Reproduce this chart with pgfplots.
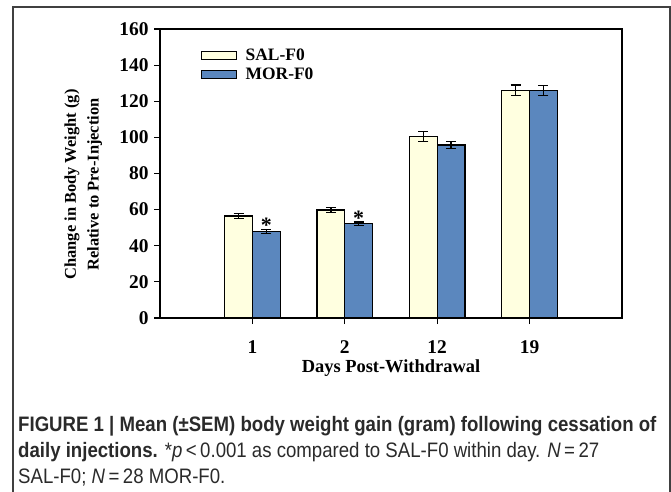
\documentclass[border=0pt]{standalone}
\usepackage{fontspec}
\setmainfont{Liberation Serif}
\newfontfamily\capfont[FakeStretch=0.89]{Liberation Sans}
\usepackage{pgfplots}
\pgfplotsset{compat=1.18}
\definecolor{salc}{HTML}{FFFFE0}
\definecolor{morc}{HTML}{5B87BE}
\definecolor{capc}{HTML}{2A2A2A}
\begin{document}
\begin{tikzpicture}
\useasboundingbox (0,0) rectangle (671bp,-492bp);
\draw[line width=1.4bp, black!75] (13bp,-520bp) -- (13bp,-7bp) -- (670bp,-7bp) -- (670bp,-520bp);
\begin{axis}[
  at={(160bp,-318bp)}, anchor=south west,
  scale only axis, width=462bp, height=289bp,
  xmin=-1, xmax=4, ymin=0, ymax=160,
  ybar=0pt, bar width=0.3,
  xtick={0,1,2,3}, xticklabels={1,2,12,19},
  ytick={0,20,...,160},
  tick align=outside, xtick pos=bottom, ytick pos=left,
  major tick length=6bp,
  axis line style={line width=1.2bp},
  tick style={line width=1.2bp, black},
  /pgf/number format/assume math mode=true,
  ticklabel style={font=\bfseries\fontsize{19.5}{21}\selectfont},
  xticklabel style={yshift=-13bp},
  yticklabel style={xshift=-2bp},
  xlabel={Days Post-Withdrawal},
  xlabel style={font=\bfseries\fontsize{18.5}{20}\selectfont, at={(axis description cs:0.5,-0.175)}, anchor=center},
  ylabel={Change in Body Weight (g)\\Relative to Pre-Injection},
  ylabel style={font=\bfseries\fontsize{16.5}{23}\selectfont, align=center, at={(axis description cs:-0.166,0.462)}, anchor=center},
  legend style={draw=none, fill=none, at={(axis description cs:0.082,0.945)}, anchor=north west,
    font=\bfseries\fontsize{17.5}{19}\selectfont, row sep=2bp},
  legend cell align=left,
  legend image code/.code={\draw[#1, line width=1.2bp] (0bp,-4bp) rectangle (35bp,4bp); \path[draw=none, fill=none] (0bp,-0.1bp) rectangle (42bp,0.1bp);},
  error bars/y dir=both, error bars/y explicit,
  error bars/error bar style={line width=1.2bp, black},
  error bars/error mark options={rotate=90, mark size=5bp, line width=1.2bp, black},
]
\addplot[fill=salc, draw=black, line width=1.2bp, bar shift=-0.15]
  coordinates {(0,56.5) +- (0,1.5) (1,59.8) +- (0,1.6) (2,100.4) +- (0,2.9) (3,126.0) +- (0,3.0)};
\addlegendentry{SAL-F0}
\addplot[fill=morc, draw=black, line width=1.2bp, bar shift=0.15]
  coordinates {(0,47.9) +- (0,1.0) (1,52.1) +- (0,1.0) (2,95.8) +- (0,1.8) (3,126.0) +- (0,2.6)};
\addlegendentry{MOR-F0}
\addplot[forget plot, draw=none, fill=none, bar shift=0.15,
  nodes near coords={\textbf{*}},
  nodes near coords style={anchor=center, yshift=6bp, font=\bfseries\fontsize{22}{24}\selectfont}]
  coordinates {(0,47.9) (1,52.1)};
\end{axis}
\begin{scope}[capc]
\node[anchor=base west, inner sep=0, font=\capfont\fontsize{21}{26}\selectfont] at (18bp,-431bp)
  {\bfseries FIGURE 1 | Mean (±SEM) body weight gain (gram) following cessation of};
\node[anchor=base west, inner sep=0, font=\capfont\fontsize{21}{26}\selectfont] at (18bp,-457bp)
  {\textbf{daily injections.} *\textit{p}\,<\,0.001 as compared to SAL-F0 within day. \textit{N}\,=\,27};
\node[anchor=base west, inner sep=0, font=\capfont\fontsize{21}{26}\selectfont] at (18bp,-483bp)
  {SAL-F0; \textit{N}\,=\,28 MOR-F0.};
\end{scope}
\end{tikzpicture}
\end{document}
